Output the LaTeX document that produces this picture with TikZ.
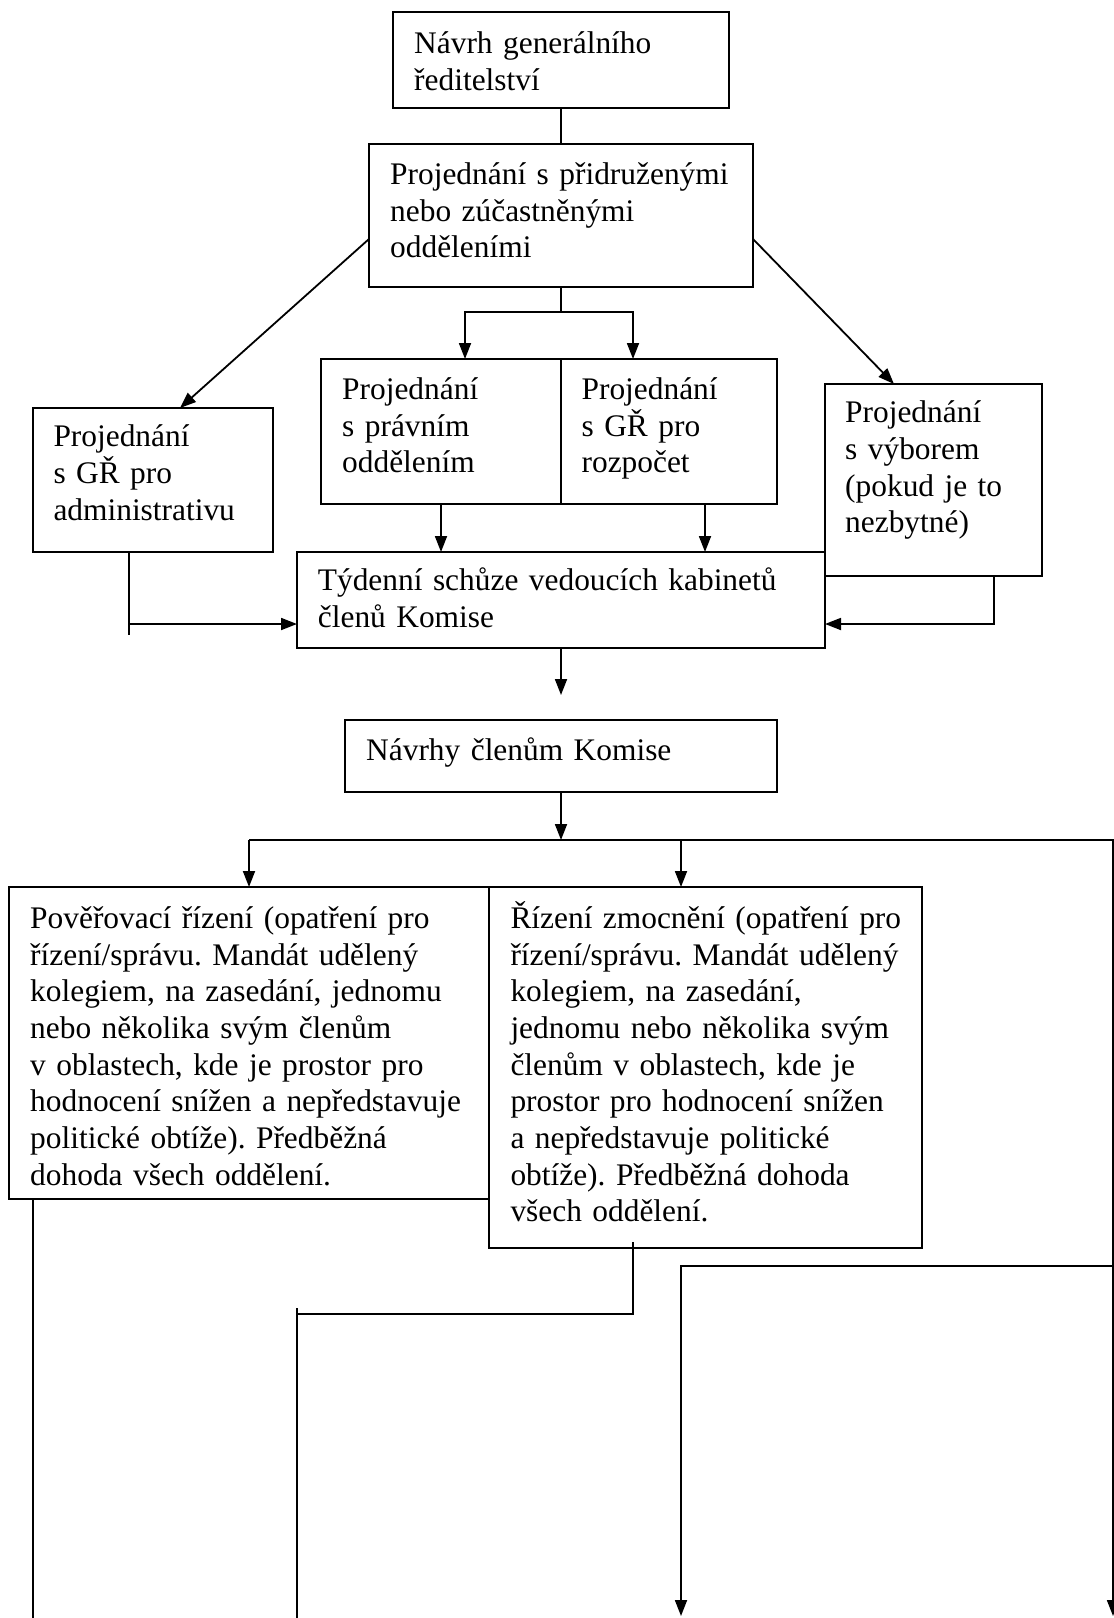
\documentclass[tikz,border=0pt]{standalone}
\usepackage{fontspec}
\setmainfont{Liberation Serif}
\usetikzlibrary{arrows.meta,calc}
\frenchspacing
\begin{document}
\begin{tikzpicture}[x=1pt,y=-1pt,
  box/.style={draw, line width=2pt, anchor=north west, inner sep=0pt, outer sep=0pt},
  txt/.style={anchor=base west, align=left, text width=520pt, inner sep=0pt,
    font=\fontsize{31.4}{36.7}\selectfont\frenchspacing},
  conn/.style={line width=1.8pt},
  arr/.style={conn, -{Triangle[length=16pt,width=12pt]}}]

\fill[white] (0,0) rectangle (1114,1618);
\useasboundingbox (0,0) rectangle (1114,1618);

% boxes
\node[box, minimum width=336pt, minimum height=96pt]  (b1)  at (393,12) {};
\node[box, minimum width=384pt, minimum height=143pt] (b2)  at (369,144) {};
\node[box, minimum width=240pt, minimum height=145pt] (b3l) at (321,359) {};
\node[box, minimum width=216pt, minimum height=145pt] (b3r) at (561,359) {};
\node[box, minimum width=240pt, minimum height=144pt] (adm) at (33,408) {};
\node[box, minimum width=217pt, minimum height=192pt] (com) at (825,384) {};
\node[box, minimum width=528pt, minimum height=96pt]  (wk)  at (297,552) {};
\node[box, minimum width=432pt, minimum height=72pt]  (nav) at (345,720) {};
\node[box, minimum width=480.5pt, minimum height=312pt] (pov) at (8.5,887) {};
\node[box, minimum width=433pt, minimum height=361pt] (zmo) at (489,887) {};

% texts
\node[txt] (t1)   at (414,53.3)   {Návrh generálního\\ředitelství};
\node[txt] (t2)   at (390,184.3)  {Projednání s přidruženými\\nebo zúčastněnými\\odděleními};
\node[txt] (t3l)  at (342,399.3)  {Projednání\\s právním\\oddělením};
\node[txt] (t3r)  at (581.4,399.3){Projednání\\s GŘ pro\\rozpočet};
\node[txt] (tadm) at (53.3,446.7) {Projednání\\s GŘ pro\\administrativu};
\node[txt] (tcom) at (845,422.7)  {Projednání\\s výborem\\(pokud je to\\nezbytné)};
\node[txt] (twk)  at (317.7,590.7){Týdenní schůze vedoucích kabinetů\\členů Komise};
\node[txt] (tnav) at (366,760)    {Návrhy členům Komise};
\node[txt] (tpov) at (30,928.3)   {Pověřovací řízení (opatření pro\\řízení/správu. Mandát udělený\\kolegiem, na zasedání, jednomu\\nebo několika svým členům\\v oblastech, kde je prostor pro\\hodnocení snížen a nepředstavuje\\politické obtíže). Předběžná\\dohoda všech oddělení.};
\node[txt] (tzmo) at (510.3,928.3){Řízení zmocnění (opatření pro\\řízení/správu. Mandát udělený\\kolegiem, na zasedání,\\jednomu nebo několika svým\\členům v oblastech, kde je\\prostor pro hodnocení snížen\\a nepředstavuje politické\\obtíže). Předběžná dohoda\\všech oddělení.};

% connectors top part
\draw[conn] (b1.south) -- (b2.north);
\draw[arr] ($(b2.north west)+(0,95)$) -- ($(adm.north west)+(147,0)$);
\draw[arr] ($(b2.north east)+(0,95)$) -- ($(com.north west)+(69,0)$);
\coordinate (sp) at ($(b2.south)+(0,25)$);
\draw[conn] (b2.south) -- (sp);
\draw[arr] (sp) -| ($(b3l.north west)+(144,0)$);
\draw[arr] (sp) -| ($(b3r.north west)+(72,0)$);
\draw[arr] ($(b3l.south west)+(120,0)$) -- ($(wk.north west)+(144,0)$);
\draw[arr] ($(b3r.south west)+(144,0)$) -- ($(wk.north west)+(408,0)$);

% admin -> weekly
\coordinate (aj) at ($(adm.south west)+(95.6,72)$);
\draw[conn] ($(adm.south west)+(95.6,0)$) -- ($(aj)+(0,11)$);
\draw[arr] (aj) -- (aj -| wk.west);
% committee -> weekly
\draw[arr] ($(com.south west)+(168.6,0)$) |- ($(wk.north east)+(0,72)$);

% weekly -> proposals
\coordinate (navin) at ($(nav.north)+(0,-25)$);
\draw[arr] (wk.south) -- (navin);

% proposals -> bus
\coordinate (bus)  at ($(nav.south)+(0,48)$);
\coordinate (busL) at (249,840);
\coordinate (busM) at (681,840);
\coordinate (busR) at (1113,840);
\coordinate (endR) at (1113,1616);
\draw[arr] (nav.south) -- (bus);
\draw[arr] (busL) -- (busR) -- (endR);
\draw[arr] (busL) -- (busL |- pov.north);
\draw[arr] (busM) -- (busM |- zmo.north);

% bottom lines
\coordinate (pl) at ($(pov.south west)+(24.2,0)$);
\draw[conn] (pl) -- (pl |- 0,1620);
\coordinate (zs) at ($(zmo.south west)+(143.6,-6)$);
\coordinate (zc) at (632.6,1314);
\coordinate (zl) at (297,1314);
\draw[conn] (zs) -- (zc) -- (zl);
\coordinate (vl) at (297,1308);
\draw[conn] (vl) -- (297,1620);
\coordinate (rj) at (1113,1266);
\coordinate (rm) at (681,1266);
\coordinate (re) at (681,1616);
\draw[arr] (rj) -- (rm) -- (re);
\end{tikzpicture}
\end{document}
